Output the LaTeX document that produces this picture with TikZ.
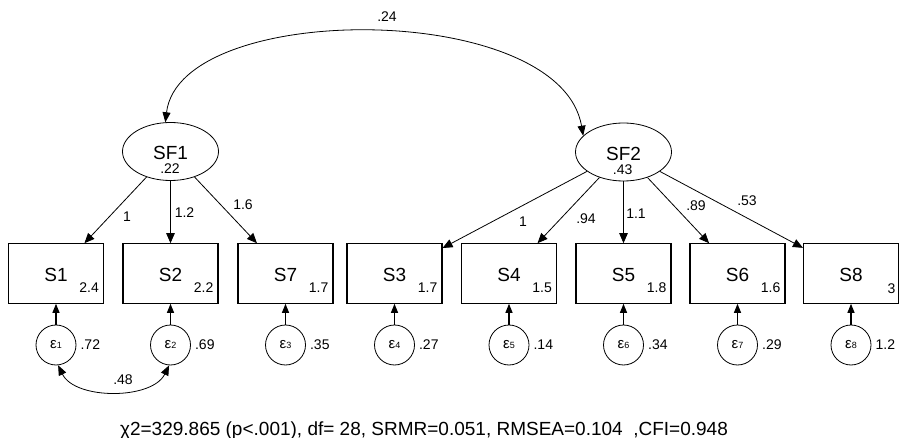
\documentclass[tikz,border=0pt]{standalone}
\usepackage{fontspec}
\setmainfont{Liberation Sans}
\usetikzlibrary{arrows.meta,shapes.geometric}
\begin{document}
\begin{tikzpicture}[x=1pt,y=-1pt,
  obs/.style={draw, line width=1.1pt, minimum width=95pt, minimum height=59.5pt, inner sep=0pt,
    font=\fontsize{19}{22}\selectfont, text height=17pt, text depth=0pt},
  lat/.style={draw, ellipse, line width=0.8pt, minimum width=96pt, minimum height=58pt, inner sep=0pt},
  err/.style={draw, circle, line width=0.8pt, minimum size=40pt, inner sep=0pt},
  big/.style={font=\fontsize{19}{22}\selectfont, inner sep=0pt},
  small/.style={font=\fontsize{14}{16}\selectfont, inner sep=0pt},
  load/.style={-{Triangle[length=10pt,width=8.5pt]}, line width=0.8pt},
  res/.style={-{Triangle[length=9pt,width=7pt]}, line width=1.1pt},
  cov/.style={{Triangle[length=10pt,width=8pt]}-{Triangle[length=10pt,width=8pt]}, line width=0.8pt},
]
\useasboundingbox (0,0) rectangle (899,438);

% latent variables
\node[lat] (SF1) at (170.5,151.5) {};
\node[lat] (SF2) at (623.5,152) {};
\node[big] (tSF1) at (170.5,152.5) {SF1};
\node[small] (vSF1) at (170,168.5) {.22};
\node[big] (tSF2) at (623.5,153.5) {SF2};
\node[small] (vSF2) at (622.7,169.5) {.43};

% observed variables
\node[obs] (S1) at (56,273.5) {S1};
\node[obs] (S2) at (170.5,273.5) {S2};
\node[obs] (S7) at (285.5,273.5) {S7};
\node[obs] (S3) at (394.5,273.5) {S3};
\node[obs] (S4) at (509,273.5) {S4};
\node[obs] (S5) at (623.5,273.5) {S5};
\node[obs] (S6) at (737.5,273.5) {S6};
\node[obs] (S8) at (851,273.5) {S8};

\node[small, anchor=east] (m1) at (99,287.5) {2.4};
\node[small, anchor=east] (m2) at (213.5,287.5) {2.2};
\node[small, anchor=east] (m7) at (328.5,287.5) {1.7};
\node[small, anchor=east] (m3) at (437.5,287.5) {1.7};
\node[small, anchor=east] (m4) at (552,287.5) {1.5};
\node[small, anchor=east] (m5) at (666.5,287.5) {1.8};
\node[small, anchor=east] (m6) at (780.5,287.5) {1.6};
\node[small, anchor=east] (m8) at (895.5,289) {3};

% error terms
\newcommand{\epsl}[1]{{\fontsize{15}{15}\selectfont ε}{\fontsize{9}{9}\selectfont #1}}
\node[err] (e1) at (56,345) {\epsl{1}};
\node[err] (e2) at (170.5,345) {\epsl{2}};
\node[err] (e3) at (285.5,345) {\epsl{3}};
\node[err] (e4) at (394.5,345) {\epsl{4}};
\node[err] (e5) at (509,345) {\epsl{5}};
\node[err] (e6) at (623.5,345) {\epsl{6}};
\node[err] (e7) at (737.5,345) {\epsl{7}};
\node[err] (e8) at (851,345) {\epsl{8}};

\node[small, anchor=west] (v1) at ([xshift=4pt]e1.east) {.72};
\node[small, anchor=west] (v2) at ([xshift=4pt]e2.east) {.69};
\node[small, anchor=west] (v3) at ([xshift=4pt]e3.east) {.35};
\node[small, anchor=west] (v4) at ([xshift=4pt]e4.east) {.27};
\node[small, anchor=west] (v5) at ([xshift=4pt]e5.east) {.14};
\node[small, anchor=west] (v6) at ([xshift=4pt]e6.east) {.34};
\node[small, anchor=west] (v7) at ([xshift=4pt]e7.east) {.29};
\node[small, anchor=west] (v8) at ([xshift=4pt]e8.east) {1.2};

% loadings
\draw[load] (SF1) -- (S1);
\draw[load] (SF1) -- (S2);
\draw[load] (SF1) -- (S7);
\draw[load] (SF2) -- (S3);
\draw[load] (SF2) -- (S4);
\draw[load] (SF2) -- (S5);
\draw[load] (SF2) -- (S6);
\draw[load] (SF2) -- (S8);

\node[small] (l1) at (127,217) {1};
\node[small] (l2) at (184.5,213) {1.2};
\node[small] (l7) at (243,205) {1.6};
\node[small] (l3) at (523,222) {1};
\node[small] (l4) at (586,219) {.94};
\node[small] (l5) at (636,214) {1.1};
\node[small] (l6) at (696,206) {.89};
\node[small] (l8) at (747,201) {.53};

% residual arrows
\foreach \i/\s in {1/S1,2/S2,3/S7,4/S3,5/S4,6/S5,7/S6,8/S8}{
  \draw[res] (e\i) -- (\s);
}

% covariances
\draw[cov] (e1.-84) .. controls (75,400) and (152,400) .. (e2.-94);
\node[small] (c12) at (123,380) {.48};
\draw[cov] (SF1.100) .. controls (180,0) and (560,0) .. (SF2.158);
\node[small] (c24) at (387,17) {.24};

% fit statistics
\node[big, anchor=base] (fit) at (424,435) {χ2=329.865 (p<.001), df= 28, SRMR=0.051, RMSEA=0.104\ \ ,CFI=0.948};
\end{tikzpicture}
\end{document}
